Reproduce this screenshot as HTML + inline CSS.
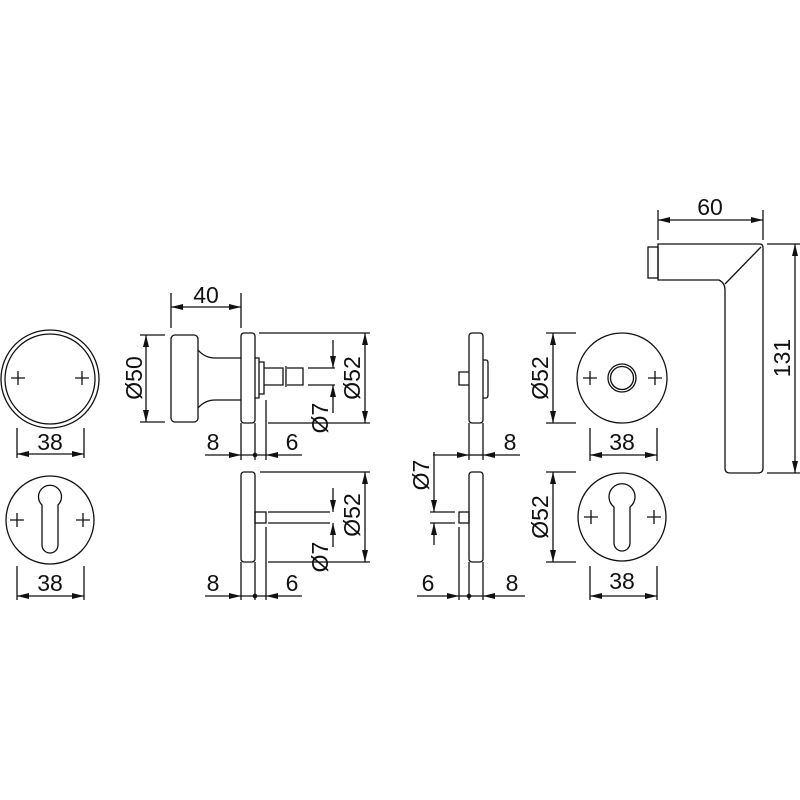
<!DOCTYPE html>
<html><head><meta charset="utf-8"><style>
html,body{margin:0;padding:0;background:#fff}
svg{display:block}
text{font-family:"Liberation Sans",Arial,sans-serif;font-size:23px;fill:#111}
</style></head><body>
<svg width="800" height="800" viewBox="0 0 800 800" xmlns="http://www.w3.org/2000/svg">
<defs>
<marker id="a" viewBox="0 0 12 6" refX="12" refY="3" markerWidth="12" markerHeight="6" markerUnits="userSpaceOnUse" orient="auto-start-reverse"><path d="M0,0L12,3L0,6z" fill="#111"/></marker>
</defs>
<g fill="none" stroke="#111" stroke-width="1.3">
<!-- left top rosette -->
<circle cx="50" cy="379" r="49"/><circle cx="50" cy="379" r="45"/>
<path d="M11,378h14M18,371v14M75,378h14M82,371v14"/>
<path d="M17,428v30M84,428v30"/>
<path d="M17,454H84" marker-start="url(#a)" marker-end="url(#a)"/>
<!-- left bottom rosette -->
<circle cx="50" cy="520" r="44"/>
<path d="M42,545 V505 A11.5,11.5 0 1 1 58,505 V545 A8,8 0 0 1 42,545z"/>
<path d="M10,520h14M17,513v14M76,520h14M83,513v14"/>
<path d="M17,566v34M84,566v34"/>
<path d="M17,596H84" marker-start="url(#a)" marker-end="url(#a)"/>
<!-- knob top -->
<rect x="171" y="335" width="27" height="87" rx="4"/>
<path d="M198,350 Q205,358 215,358 H241 M198,408 Q205,400 215,400 H241"/>
<rect x="241" y="333" width="14" height="90" rx="3"/>
<path d="M255,358h4v40h-4M259,362h5v32h-5M264,368v17"/>
<path d="M264,368h19v17h-19M287,368h16v17h-16M286,366v21"/>
<path d="M308,368h27M308,385h27M259,333H370M268,423H370"/>
<path d="M171,328v-35M241,328v-35"/>
<path d="M171,307H241" marker-start="url(#a)" marker-end="url(#a)"/>
<path d="M140,335h25M140,422h25"/>
<path d="M146,335V422" marker-start="url(#a)" marker-end="url(#a)"/>
<path d="M365,333V423" marker-start="url(#a)" marker-end="url(#a)"/>
<path d="M333,340V368" marker-end="url(#a)"/><path d="M333,413V385" marker-end="url(#a)"/>
<path d="M241,423v37M255,423v37M266,400v60"/>
<path d="M205,455H241" marker-end="url(#a)"/><path d="M302,455H266" marker-end="url(#a)"/><path d="M241,455h25"/>
<!-- middle bottom left -->
<rect x="241" y="472" width="14" height="90" rx="3"/>
<rect x="255" y="512" width="11" height="11"/>
<path d="M268,512h62M268,523h62M260,472H370M268,562H370M266,527v73M241,562v38M255,562v38"/>
<path d="M365,472V562" marker-start="url(#a)" marker-end="url(#a)"/>
<path d="M333,488V512" marker-end="url(#a)"/><path d="M333,547V523" marker-end="url(#a)"/>
<path d="M205,596H241" marker-end="url(#a)"/><path d="M302,596H266" marker-end="url(#a)"/><path d="M241,596h25"/>
<!-- middle right top -->
<rect x="469" y="333" width="14" height="90" rx="3"/>
<path d="M483,360h3q2,0 2,3v32q0,3-2,3h-3M469,372h-10v13h10"/>
<path d="M469,423v37M483,423v37"/>
<path d="M433,455H469" marker-end="url(#a)"/><path d="M520,455H483" marker-end="url(#a)"/><path d="M469,455h14"/>
<!-- middle right bottom -->
<rect x="469" y="472" width="14" height="90" rx="3"/>
<rect x="459" y="512" width="10" height="11"/>
<path d="M430,512h25M430,523h25M459,527v73M469,562v38M483,562v38"/>
<path d="M434,452V512" marker-end="url(#a)"/><path d="M434,545V523" marker-end="url(#a)"/>
<path d="M417,596H459" marker-end="url(#a)"/><path d="M525,596H483" marker-end="url(#a)"/><path d="M459,596h24"/>
<!-- right rosette top -->
<circle cx="622" cy="378" r="45"/><circle cx="622" cy="378" r="14"/><circle cx="622" cy="378" r="11.5"/>
<path d="M583,378h14M590,371v14M648,378h14M655,371v14"/>
<path d="M546,333h30M546,423h30"/>
<path d="M553,333V423" marker-start="url(#a)" marker-end="url(#a)"/>
<path d="M590,428v33M657,428v33"/>
<path d="M590,455H657" marker-start="url(#a)" marker-end="url(#a)"/>
<!-- right rosette bottom -->
<circle cx="622" cy="517" r="44"/>
<path d="M614,543 V507 A13,13 0 1 1 630,507 V543 A8,8 0 0 1 614,543z"/>
<path d="M584,517h14M591,510v14M647,517h14M654,510v14"/>
<path d="M546,472h30M546,562h30"/>
<path d="M553,472V562" marker-start="url(#a)" marker-end="url(#a)"/>
<path d="M590,566v34M657,566v34"/>
<path d="M590,596H657" marker-start="url(#a)" marker-end="url(#a)"/>
<!-- lever -->
<path d="M658,244H760q3,0 3,4V468q0,5-5,5H730q-5,0-5,-5V290q0,-7-6,-10H658z"/>
<path d="M725,284L761,247"/>
<rect x="648" y="247" width="10" height="31"/>
<path d="M658,240v-30M763,240v-30"/>
<path d="M658,220H763" marker-start="url(#a)" marker-end="url(#a)"/>
<path d="M767,244h33M767,473h33"/>
<path d="M795,244V473" marker-start="url(#a)" marker-end="url(#a)"/>
</g>
<g fill="#111"><circle cx="255" cy="455" r="2.3"/><circle cx="255" cy="596" r="2.3"/><circle cx="469" cy="596" r="2.3"/></g>
<text x="50" y="450" text-anchor="middle">38</text>
<text x="50" y="591" text-anchor="middle">38</text>
<text x="206" y="303" text-anchor="middle">40</text>
<text x="213" y="450" text-anchor="middle">8</text>
<text x="292" y="450" text-anchor="middle">6</text>
<text x="213" y="591" text-anchor="middle">8</text>
<text x="292" y="591" text-anchor="middle">6</text>
<text x="510" y="450" text-anchor="middle">8</text>
<text x="428" y="591" text-anchor="middle">6</text>
<text x="512" y="591" text-anchor="middle">8</text>
<text x="622" y="450" text-anchor="middle">38</text>
<text x="622" y="589" text-anchor="middle">38</text>
<text x="710" y="215" text-anchor="middle">60</text>
<text transform="translate(142,378) rotate(-90)" text-anchor="middle">Ø50</text>
<text transform="translate(360,378) rotate(-90)" text-anchor="middle">Ø52</text>
<text transform="translate(328,418) rotate(-90)" text-anchor="middle">Ø7</text>
<text transform="translate(360,515) rotate(-90)" text-anchor="middle">Ø52</text>
<text transform="translate(328,557) rotate(-90)" text-anchor="middle">Ø7</text>
<text transform="translate(429,475) rotate(-90)" text-anchor="middle">Ø7</text>
<text transform="translate(548,378) rotate(-90)" text-anchor="middle">Ø52</text>
<text transform="translate(548,517) rotate(-90)" text-anchor="middle">Ø52</text>
<text transform="translate(790,358) rotate(-90)" text-anchor="middle">131</text>
</svg>
</body></html>
